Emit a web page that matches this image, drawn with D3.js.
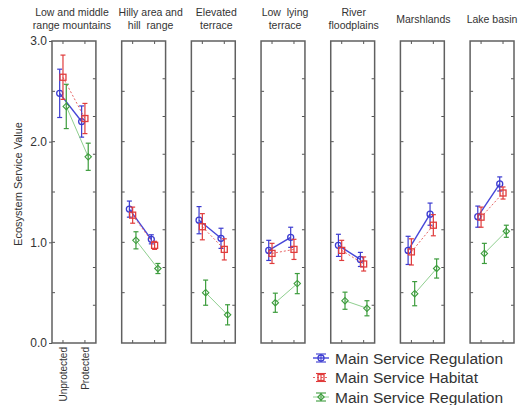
<!DOCTYPE html>
<html>
<head>
<meta charset="utf-8">
<script src="https://cdn.jsdelivr.net/npm/d3@7"></script>
<style>
  body { margin: 0; background: #fff; }
  text { font-family: "Liberation Sans", Arial, sans-serif; fill: #333; }
</style>
</head>
<body>
<svg id="chart"></svg>
<script>
// landform categories (title lines)
let landforms = [
  ["Low and middle", "range mountains"],
  ["Hilly area and", "hill  range"],
  ["Elevated", "terrace"],
  ["Low  lying", "terrace"],
  ["River", "floodplains"],
  ["Marshlands"],
  ["Lake basin"]
];
let groups = ["Unprotected", "Protected"];
let yTicks = [0, 1, 2, 3];

// [unprotected, protected] per landform
let regulationMean = [[2.48, 2.20], [1.33, 1.03], [1.22, 1.04], [0.92, 1.05], [0.97, 0.83], [0.92, 1.28], [1.255, 1.58]];
let regulationErr  = [[0.24, 0.155], [0.08, 0.045], [0.135, 0.10], [0.10, 0.10], [0.11, 0.07], [0.14, 0.11], [0.105, 0.07]];
let habitatMean    = [[2.64, 2.23], [1.27, 0.97], [1.155, 0.93], [0.89, 0.93], [0.92, 0.785], [0.905, 1.17], [1.25, 1.49]];
let habitatErr     = [[0.22, 0.15], [0.08, 0.04], [0.13, 0.105], [0.10, 0.10], [0.10, 0.07], [0.13, 0.105], [0.10, 0.06]];
let regulation2Mean = [[2.35, 1.85], [1.02, 0.74], [0.50, 0.28], [0.40, 0.59], [0.42, 0.345], [0.49, 0.74], [0.89, 1.11]];
let regulation2Err  = [[0.22, 0.135], [0.085, 0.05], [0.125, 0.10], [0.095, 0.10], [0.085, 0.075], [0.12, 0.095], [0.10, 0.06]];

let series = [
  {name: "Main Service Regulation", mean: regulationMean, err: regulationErr, color: "#3b3bd0", line: "#4646d8", width: 1.4, dash: null, marker: "circle", offset: -0.15},
  {name: "Main Service Habitat", mean: habitatMean, err: habitatErr, color: "#e03c3c", line: "#e86464", width: 1, dash: "2,2", marker: "square", offset: 0},
  {name: "Main Service Regulation", mean: regulation2Mean, err: regulation2Err, color: "#3c9c3c", line: "#8fcf8f", width: 1, dash: null, marker: "diamond", offset: 0.15}
];

let width = 519, height = 405;
let plotTop = 41, plotBottom = 343;
// small horizontal nudges of the panel titles, as in the original figure
let titleShift = [-2, 7, 3, 2, 1, 1, 0];

let svg = d3.select("#chart").attr("width", width).attr("height", height);

let band = d3.scaleBand().domain(d3.range(landforms.length)).range([52, 514]).paddingInner(0.37);
let y = d3.scaleLinear().domain([0, 3]).range([plotBottom, plotTop]);
let yRight = d3.scaleLinear().domain([0, 4]).range([plotBottom, plotTop]);
let x = d3.scaleLinear().domain([0.5, 2.5]).range([0, band.bandwidth()]);

function marker(g, type, cx, cy, color) {
  if (type === "circle") {
    g.append("circle").attr("cx", cx).attr("cy", cy).attr("r", 3)
      .attr("fill", "none").attr("stroke", color).attr("stroke-width", 1.3);
  } else if (type === "square") {
    g.append("rect").attr("x", cx - 3).attr("y", cy - 3).attr("width", 6).attr("height", 6)
      .attr("fill", "none").attr("stroke", color).attr("stroke-width", 1.3);
  } else {
    g.append("path").attr("d", `M${cx},${cy - 3.2}L${cx + 3.2},${cy}L${cx},${cy + 3.2}L${cx - 3.2},${cy}Z`)
      .attr("fill", "none").attr("stroke", color).attr("stroke-width", 1.1);
  }
}

landforms.forEach(function(title, i) {
  let g = svg.append("g").attr("transform", `translate(${band(i)},0)`);
  let w = band.bandwidth();
  let tx = w / 2 + titleShift[i];

  // title (keep the double spaces of the original)
  let t = g.append("text").attr("text-anchor", "middle").style("font-size", "10.5px").style("white-space", "pre");
  if (title.length === 2) {
    t.append("tspan").attr("x", tx).attr("y", 16).text(title[0]);
    t.append("tspan").attr("x", tx).attr("y", 29).text(title[1]);
  } else {
    t.append("tspan").attr("x", tx).attr("y", 23).text(title[0]);
  }

  // inner ticks
  let ticks = g.append("g").attr("stroke", "#555").attr("stroke-width", 1);
  d3.range(0.5, 3, 0.5).forEach(function(v) {
    ticks.append("line").attr("x1", 0).attr("x2", 3).attr("y1", y(v)).attr("y2", y(v));
  });
  d3.range(0.5, 4, 0.5).forEach(function(v) {
    ticks.append("line").attr("x1", w).attr("x2", w - 3).attr("y1", yRight(v)).attr("y2", yRight(v));
  });
  [1, 2].forEach(function(v) {
    ticks.append("line").attr("x1", x(v)).attr("x2", x(v)).attr("y1", plotTop).attr("y2", plotTop + 3);
    ticks.append("line").attr("x1", x(v)).attr("x2", x(v)).attr("y1", plotBottom).attr("y2", plotBottom - 3);
  });

  // series: lines, error bars, markers
  series.forEach(function(s) {
    let pts = s.mean[i].map((m, k) => ({x: x(k + 1 + s.offset), y: y(m), lo: y(m - s.err[i][k]), hi: y(m + s.err[i][k])}));
    g.append("path").attr("d", d3.line().x(d => d.x).y(d => d.y)(pts))
      .attr("fill", "none").attr("stroke", s.line).attr("stroke-width", s.width)
      .attr("stroke-dasharray", s.dash);
    pts.forEach(function(p) {
      let eb = g.append("g").attr("stroke", s.color).attr("stroke-width", 1.2);
      eb.append("line").attr("x1", p.x).attr("x2", p.x).attr("y1", p.lo).attr("y2", p.hi);
      eb.append("line").attr("x1", p.x - 2.5).attr("x2", p.x + 2.5).attr("y1", p.lo).attr("y2", p.lo);
      eb.append("line").attr("x1", p.x - 2.5).attr("x2", p.x + 2.5).attr("y1", p.hi).attr("y2", p.hi);
      marker(g, s.marker, p.x, p.y, s.color);
    });
  });

  // frame
  g.append("rect").attr("x", 0).attr("y", plotTop).attr("width", w).attr("height", plotBottom - plotTop)
    .attr("fill", "none").attr("stroke", "#606060").attr("stroke-width", 1.5);

  if (i === 0) {
    let ax = g.append("g")
      .call(d3.axisLeft(y).tickValues(yTicks).tickFormat(d3.format(".1f")).tickSize(3).tickPadding(2));
    ax.select(".domain").remove();
    ax.selectAll("line").attr("stroke", "#555");
    ax.selectAll("text").style("font-size", "12px").style("font-family", "Liberation Sans, Arial, sans-serif").attr("fill", "#333");

    groups.forEach(function(name, k) {
      g.append("text").attr("transform", `translate(${x(k + 1) + 4},${plotBottom + 4}) rotate(-90)`)
        .attr("text-anchor", "end").style("font-size", "10px").text(name);
    });
  }
});

svg.append("text").attr("transform", "translate(22,184) rotate(-90)")
  .attr("text-anchor", "middle").style("font-size", "11px").text("Ecosystem Service Value");

// legend
let legend = svg.append("g").attr("transform", "translate(313,358)");
series.forEach(function(s, k) {
  let row = legend.append("g").attr("transform", `translate(0,${k * 19.5})`);
  let cx = 8;
  row.append("line").attr("x1", 0).attr("x2", 16).attr("y1", 0).attr("y2", 0)
    .attr("stroke", s.line).attr("stroke-width", s.width).attr("stroke-dasharray", s.dash);
  let eb = row.append("g").attr("stroke", s.color).attr("stroke-width", 1.1);
  eb.append("line").attr("x1", 3).attr("x2", 13).attr("y1", -4).attr("y2", -4);
  eb.append("line").attr("x1", 3).attr("x2", 13).attr("y1", 4).attr("y2", 4);
  eb.append("line").attr("x1", cx).attr("x2", cx).attr("y1", -4).attr("y2", 4);
  marker(row, s.marker, cx, 0, s.color);
  row.append("text").attr("x", 22).attr("y", 5.5).style("font-size", "15.5px").attr("fill", "#222").text(s.name);
});
</script>
</body>
</html>
